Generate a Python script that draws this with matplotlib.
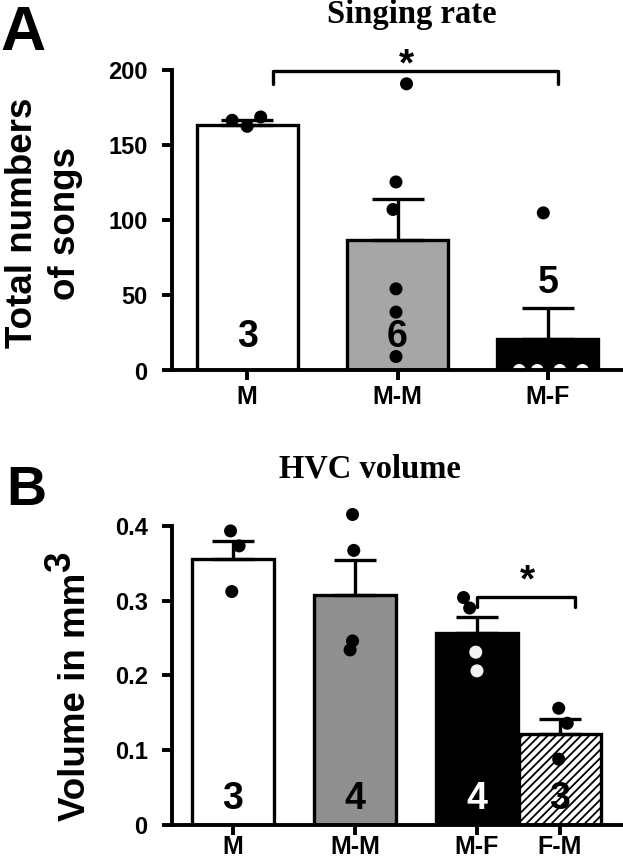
import matplotlib
matplotlib.use("Agg")
import matplotlib.pyplot as plt
import numpy as np

W, H = 623, 863

# Panel A: singing rate
a_groups = ["M", "M-M", "M-F"]
a_pos = [0, 1, 2]
a_means = [163.3, 86.7, 21.1]
a_sem = [3.7, 27.3, 20.7]
a_colors = ["white", "#a6a6a6", "black"]
a_n = ["3", "6", "5"]
a_n_y = [22, 22, 58]
a_n_colors = ["black", "black", "black"]
a_pts = [[166.7, 162.7, 168.9],
         [191, 125.6, 107.3, 54.4, 38.9, 9.3],
         [105, 0, 0, 0, 0]]
a_pts_dx = [[-0.10, 0.0, 0.09],
            [0.06, -0.01, -0.03, -0.01, -0.01, -0.01],
            [-0.03, -0.19, -0.07, 0.08, 0.23]]
a_pts_col = [["black"] * 3, ["black"] * 6, ["black", "white", "white", "white", "white"]]

# Panel B: HVC volume
b_groups = ["M", "M-M", "M-F", "F-M"]
b_pos = [0, 1, 2, 2.68]
b_means = [0.356, 0.308, 0.257, 0.122]
b_sem = [0.024, 0.046, 0.021, 0.020]
b_colors = ["white", "#8f8f8f", "black", "white"]
b_hatch = [None, None, None, "////"]
b_n = ["3", "4", "4", "3"]
b_n_colors = ["black", "black", "white", "black"]
b_pts = [[0.393, 0.373, 0.312],
         [0.415, 0.367, 0.246, 0.234],
         [0.304, 0.290, 0.231, 0.206],
         [0.156, 0.136, 0.088]]
b_pts_dx = [[-0.02, 0.05, -0.01],
            [-0.02, -0.01, -0.02, -0.04],
            [-0.11, -0.06, -0.01, 0.0],
            [-0.01, 0.06, -0.01]]
b_pts_col = [["black"] * 3, ["black"] * 4, ["black", "black", "#f2f2f2", "#f2f2f2"], ["black"] * 3]

SANS = ["Liberation Sans", "DejaVu Sans"]
SERIF = ["Liberation Serif", "DejaVu Serif"]
SPINE_LW = 2.8
LW = 2.4

plt.rcParams["font.family"] = SANS
plt.rcParams["hatch.linewidth"] = 1.3


def fx(px):
    return px / W


def fy(py):
    return 1 - py / H


def style_axes(ax, ticks, ticklabels):
    for side in ["top", "right"]:
        ax.spines[side].set_visible(False)
    for side in ["left", "bottom"]:
        ax.spines[side].set_linewidth(SPINE_LW)
        ax.spines[side].set_zorder(6)
    ax.tick_params(axis="both", length=7.5, width=SPINE_LW, direction="out")
    ax.tick_params(axis="y", pad=10)
    ax.set_yticks(ticks)
    ax.set_yticklabels(ticklabels, fontsize=17, fontweight="bold")


def draw_group(ax, pos, means, sem, colors, pts, dxs, pcols, capsize, hatches=None):
    for i, p in enumerate(pos):
        ax.bar(p, means[i], width=0.672, color=colors[i], edgecolor="black",
               linewidth=LW, hatch=hatches[i] if hatches else None, zorder=2)
    ax.errorbar(pos, means, yerr=[np.zeros(len(sem)), sem], fmt="none",
                ecolor="black", elinewidth=LW, capsize=capsize, capthick=LW, zorder=3)
    for i, p in enumerate(pos):
        xs = [p + d for d in dxs[i]]
        ax.scatter(xs, pts[i], s=88, c=pcols[i], edgecolors="none", zorder=4, clip_on=False)


fig = plt.figure(figsize=(W / 100, H / 100), dpi=100)

# ---- Panel A
axA = fig.add_axes([fx(172), fy(370.5), fx(623) - fx(172), fy(70.3) - fy(370.5)])
draw_group(axA, a_pos, a_means, a_sem, a_colors, a_pts, a_pts_dx, a_pts_col, 18.5)
axA.set_xlim(-0.5, 2.5)
axA.set_ylim(0, 200)
style_axes(axA, [0, 50, 100, 150, 200], ["0", "50", "100", "150", "200"])
axA.set_xticks(a_pos)
axA.set_xticklabels(a_groups, fontsize=18, fontweight="bold")
axA.tick_params(axis="x", pad=3)
for i, p in enumerate(a_pos):
    axA.text(p, a_n_y[i], a_n[i], ha="center", va="center", fontsize=27,
             fontweight="bold", color=a_n_colors[i], zorder=5)
# significance bracket
axA.plot([0.17, 0.17, 2.07, 2.07], [191, 199.3, 199.3, 191], color="black",
         lw=LW, clip_on=False, solid_capstyle="round", zorder=5)
axA.text(1.06, 203, "*", ha="center", va="center", fontsize=28, fontweight="bold",
         clip_on=False)

fig.text(fx(412), fy(23), "Singing rate", ha="center", va="baseline",
         fontsize=23.5, fontweight="bold", family=SERIF)
fig.text(fx(0), fy(50), "A", ha="left", va="baseline", fontsize=45, fontweight="bold")
fig.text(fx(32), fy(223), "Total numbers", rotation=90, rotation_mode="anchor",
         ha="center", va="baseline", fontsize=26.5, fontweight="bold")
fig.text(fx(75), fy(223), "of songs", rotation=90, rotation_mode="anchor",
         ha="center", va="baseline", fontsize=26.5, fontweight="bold")

# ---- Panel B
axB = fig.add_axes([fx(172), fy(825), fx(623) - fx(172), fy(525.7) - fy(825)])
draw_group(axB, b_pos, b_means, b_sem, b_colors, b_pts, b_pts_dx, b_pts_col, 15, b_hatch)
axB.set_xlim(-0.5, 3.197)
axB.set_ylim(0, 0.4)
style_axes(axB, [0, 0.1, 0.2, 0.3, 0.4], ["0", "0.1", "0.2", "0.3", "0.4"])
axB.set_xticks(b_pos)
axB.set_xticklabels(b_groups, fontsize=18, fontweight="bold")
axB.tick_params(axis="x", pad=0)
for i, p in enumerate(b_pos):
    axB.text(p, 0.035, b_n[i], ha="center", va="center", fontsize=27,
             fontweight="bold", color=b_n_colors[i], zorder=5)
axB.plot([2.0, 2.0, 2.80, 2.80], [0.292, 0.305, 0.305, 0.292], color="black",
         lw=LW, clip_on=False, solid_capstyle="round", zorder=5)
axB.text(2.41, 0.325, "*", ha="center", va="center", fontsize=28, fontweight="bold",
         clip_on=False)

fig.text(fx(370), fy(477), "HVC volume", ha="center", va="baseline",
         fontsize=23.5, fontweight="bold", family=SERIF)
fig.text(fx(6), fy(505), "B", ha="left", va="baseline", fontsize=40, fontweight="bold")
fig.text(fx(85), fy(697), "Volume in mm", rotation=90, rotation_mode="anchor",
         ha="center", va="baseline", fontsize=26.5, fontweight="bold")
fig.text(fx(70), fy(562), "3", rotation=90, rotation_mode="anchor",
         ha="center", va="baseline", fontsize=26.5, fontweight="bold")

fig.savefig("out.png", dpi=100)
